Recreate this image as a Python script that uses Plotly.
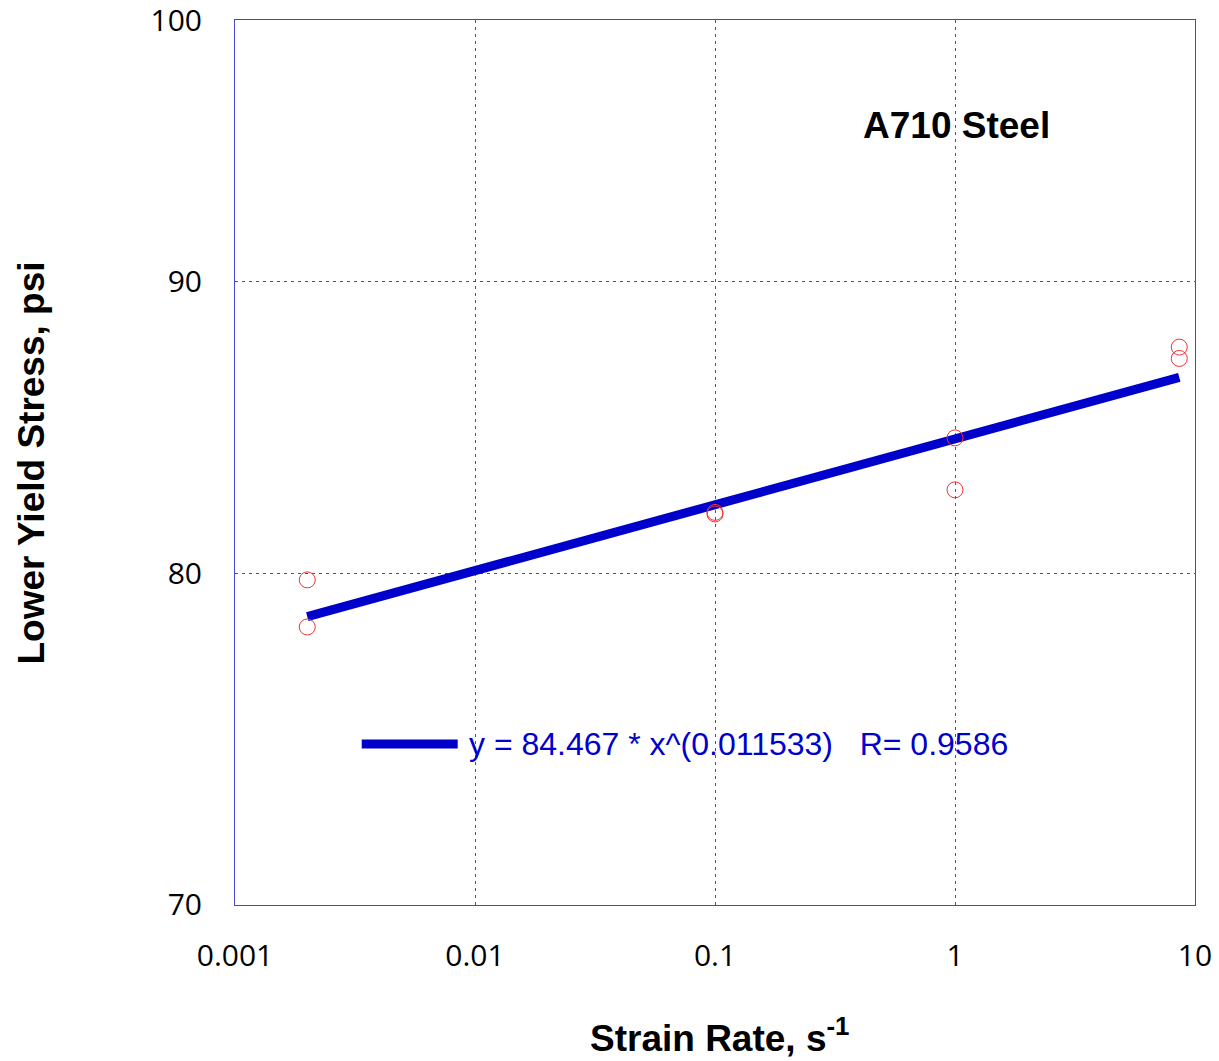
import plotly.graph_objects as go

# Measured lower yield stress vs. strain rate (A710 steel)
strain_rate = [0.002, 0.002, 0.1, 0.1, 1.0, 1.0, 8.6, 8.6]
yield_stress = [79.8, 78.3, 82.0, 81.95, 84.5, 82.75, 87.65, 87.25]

# Power-law fit  y = a * x^b
fit_a = 84.467
fit_b = 0.011533
fit_r = 0.9586
fit_x = [0.002, 8.6]
fit_y = [fit_a * x ** fit_b for x in fit_x]

x_ticks = [0.001, 0.01, 0.1, 1, 10]
x_tick_labels = ["0.001", "0.01", "0.1", "1", "10"]
y_ticks = [70, 80, 90, 100]
y_tick_labels = ["70", "80", "90", "100"]

FONT = "Liberation Sans, Arial, sans-serif"
TICK_FONT = "Open Sans, sans-serif"
GRID = "#4646c8"

fig = go.Figure()

fig.add_trace(go.Scatter(
    x=fit_x, y=fit_y, mode="lines",
    line=dict(color="#0000cc", width=9),
    showlegend=False, hoverinfo="skip",
))

fig.add_trace(go.Scatter(
    x=strain_rate, y=yield_stress, mode="markers",
    marker=dict(symbol="circle-open", size=16, color="#ee3333", line=dict(width=1)),
    showlegend=False,
))

fig.update_layout(
    width=1219, height=1061,
    margin=dict(l=235, r=24, t=20, b=156),
    paper_bgcolor="white", plot_bgcolor="white",
    font=dict(family=FONT, size=28, color="black"),
    xaxis=dict(
        type="log", range=[-3.00001, 1.00001], automargin=False,
        tickvals=x_ticks, ticktext=x_tick_labels,
        tickfont=dict(family=TICK_FONT, size=30, color="black"),
        ticks="", ticklabelstandoff=24, ticklabeloverflow="allow",
        showgrid=True, gridcolor=GRID, griddash="3px,4px", gridwidth=1,
        showline=True, linecolor=GRID, linewidth=1, mirror=True,
        zeroline=False,
    ),
    yaxis=dict(
        type="log", range=[1.845095, 2.00001], automargin=False,
        tickvals=y_ticks, ticktext=y_tick_labels,
        tickfont=dict(family=TICK_FONT, size=30, color="black"),
        ticks="", ticklabelstandoff=26, ticklabeloverflow="allow",
        showgrid=True, gridcolor=GRID, griddash="3px,4px", gridwidth=1,
        showline=True, linecolor=GRID, linewidth=1, mirror=True,
        zeroline=False,
    ),
    showlegend=False,
)

# Legend entry for the fitted curve
fig.add_shape(
    type="line", xref="paper", yref="paper",
    x0=0.132, x1=0.232, y0=0.182, y1=0.182,
    line=dict(color="#0000cc", width=9),
)

fig.add_annotation(
    xref="paper", yref="paper", x=0.2417, y=0.182,
    xanchor="left", yanchor="middle", showarrow=False,
    text=f"y = {fit_a} * x^({fit_b})   R= {fit_r}",
    font=dict(family=FONT, size=32, color="#0000cc"),
)

fig.add_annotation(
    xref="paper", yref="paper", x=0.752, y=0.881,
    xanchor="center", yanchor="middle", showarrow=False,
    text="<b>A710 Steel</b>",
    font=dict(family=FONT, size=37, color="black"),
)

# Axis titles
fig.add_annotation(
    xref="paper", yref="paper", x=0.505, y=-0.147,
    xanchor="center", yanchor="middle", showarrow=False,
    text="<b>Strain Rate, s<sup>-1</sup></b>",
    font=dict(family=FONT, size=37, color="black"),
)
fig.add_annotation(
    xref="paper", yref="paper", x=-0.212, y=0.4994,
    xanchor="center", yanchor="middle", showarrow=False, textangle=-90,
    text="<b>Lower Yield Stress, psi</b>",
    font=dict(family=FONT, size=37, color="black"),
)

fig.write_html("out.html")
